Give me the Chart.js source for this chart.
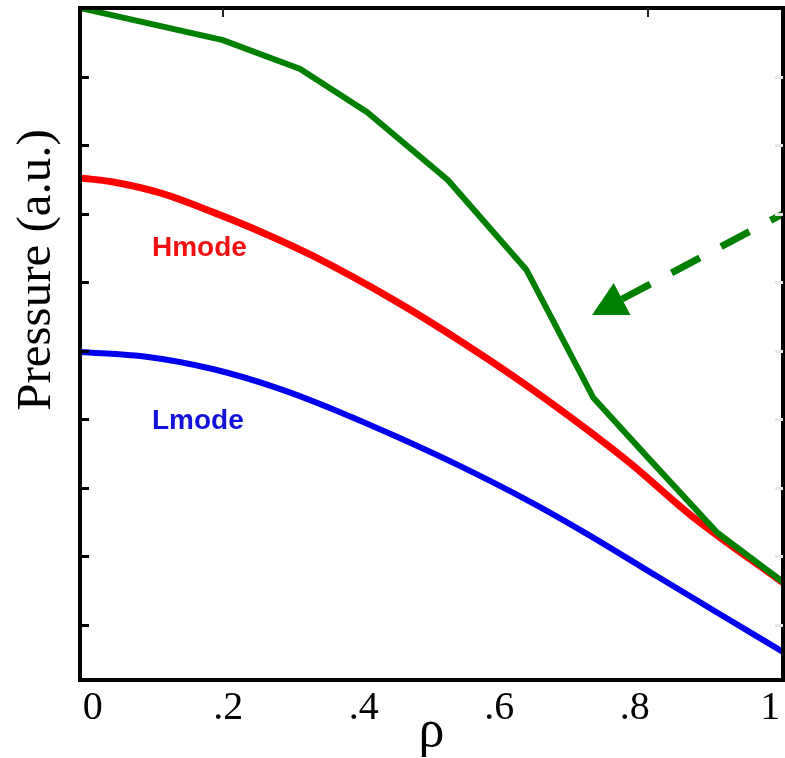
<!DOCTYPE html>
<html>
<head>
<meta charset="utf-8">
<script src="https://cdn.jsdelivr.net/npm/chart.js@4"></script>
<style>
  html, body { margin: 0; padding: 0; background: #fff; }
  #wrap { width: 785px; height: 758px; position: relative; }
</style>
</head>
<body>
<div id="wrap"><canvas id="myChart"></canvas></div>
<script>
const rhoTicks = [0, 0.2, 0.4, 0.6, 0.8, 1];
const rhoLabels = ['0', '.2', '.4', '.6', '.8', '1'];
const pressureTicks = [1, 2, 3, 4, 5, 6, 7, 8, 9];
const topTicks = [0.192, 0.82];

// steep edge profile
const edgeRho = [-0.019, 0.192, 0.306, 0.405, 0.524, 0.640, 0.739, 0.823, 0.922, 1.019];
const edgeP   = [10.0, 9.53, 9.11, 8.48, 7.49, 6.18, 4.31, 3.40, 2.34, 1.62];

const hmodeRho = [-0.019, 0.030, 0.103, 0.177, 0.251, 0.325, 0.449, 0.547, 0.646, 0.789, 0.886, 1.019];
const hmodeP   = [7.52, 7.46, 7.29, 7.02, 6.72, 6.38, 5.71, 5.11, 4.45, 3.39, 2.57, 1.61];

const lmodeRho = [-0.019, 0.079, 0.177, 0.276, 0.365, 0.449, 0.547, 0.646, 0.730, 0.827, 0.926, 1.019];
const lmodeP   = [4.98, 4.91, 4.73, 4.44, 4.10, 3.74, 3.29, 2.79, 2.32, 1.74, 1.15, 0.60];

// dashed arrow: tail -> tip, in (rho, pressure)
const arrowTail = [1.022, 7.01];
const arrowTip = [0.737, 5.52];

const toPoints = (xs, ys) => xs.map((x, i) => ({x: x, y: ys[i]}));

const frame = {
  id: 'frame',
  afterDraw(chart) {
    const c = chart.ctx;
    const a = chart.chartArea;
    const xs = chart.scales.x;
    const ys = chart.scales.y;
    c.save();

    // dashed arrow
    const tx = xs.getPixelForValue(arrowTip[0]), ty = ys.getPixelForValue(arrowTip[1]);
    const fx = xs.getPixelForValue(arrowTail[0]), fy = ys.getPixelForValue(arrowTail[1]);
    const ang = Math.atan2(fy - ty, fx - tx);
    const headLen = 34, headW = 18;
    const bx = tx + Math.cos(ang) * headLen, by = ty + Math.sin(ang) * headLen;
    c.strokeStyle = '#008000';
    c.fillStyle = '#008000';
    c.lineWidth = 7;
    c.setLineDash([32, 24]);
    c.beginPath();
    c.moveTo(bx, by);
    c.lineTo(fx, fy);
    c.stroke();
    c.setLineDash([]);
    c.beginPath();
    c.moveTo(tx, ty);
    c.lineTo(bx + Math.sin(ang) * headW, by - Math.cos(ang) * headW);
    c.lineTo(bx - Math.sin(ang) * headW, by + Math.cos(ang) * headW);
    c.closePath();
    c.fill();

    // box
    c.strokeStyle = '#000';
    c.lineWidth = 4;
    c.strokeRect(a.left, a.top, a.right - a.left, a.bottom - a.top);

    // inward tick marks
    c.lineWidth = 3;
    pressureTicks.forEach(v => {
      const y = Math.round(ys.getPixelForValue(v)) + 0.5;
      c.strokeStyle = '#000';
      c.beginPath(); c.moveTo(a.left, y); c.lineTo(a.left + 9, y); c.stroke();
      c.strokeStyle = '#e6e6e6';
      c.beginPath(); c.moveTo(a.right - 8, y); c.lineTo(a.right, y); c.stroke();
    });
    c.strokeStyle = '#222';
    c.lineWidth = 2;
    topTicks.forEach(v => {
      const x = Math.round(xs.getPixelForValue(v));
      c.beginPath(); c.moveTo(x, a.top); c.lineTo(x, a.top + 9); c.stroke();
    });

    // curve labels
    c.font = 'bold 28px "Liberation Sans", Arial, sans-serif';
    c.textAlign = 'left';
    c.textBaseline = 'alphabetic';
    c.fillStyle = '#f01010';
    c.fillText('Hmode', 152, 256);
    c.fillStyle = '#1212d8';
    c.fillText('Lmode', 152, 429);

    // axis titles
    c.fillStyle = '#000';
    c.font = '49px "Liberation Serif", "Times New Roman", serif';
    c.textAlign = 'center';
    c.save();
    c.translate(50, 270);
    c.rotate(-Math.PI / 2);
    c.fillText('Pressure (a.u.)', 0, 0);
    c.restore();
    c.font = '52px "Liberation Serif", "Times New Roman", serif';
    c.fillText('ρ', (a.left + a.right) / 2, 746);

    c.restore();
  }
};

const ctx = document.getElementById('myChart').getContext('2d');

const myChart = new Chart(ctx, {
  type: 'line',
  data: {
    datasets: [
      {
        data: toPoints(edgeRho, edgeP),
        borderColor: '#008000',
        borderWidth: 6,
        tension: 0,
        pointRadius: 0
      },
      {
        data: toPoints(hmodeRho, hmodeP),
        borderColor: '#ff0000',
        borderWidth: 7,
        cubicInterpolationMode: 'monotone',
        pointRadius: 0
      },
      {
        data: toPoints(lmodeRho, lmodeP),
        borderColor: '#0000ee',
        borderWidth: 6,
        cubicInterpolationMode: 'monotone',
        pointRadius: 0
      }
    ]
  },
  options: {
    responsive: true,
    maintainAspectRatio: false,
    animation: false,
    layout: {
      padding: {left: 80, right: 2, top: 8, bottom: 0}
    },
    plugins: {
      legend: {display: false},
      tooltip: {enabled: false}
    },
    scales: {
      x: {
        type: 'linear',
        min: -0.019,
        max: 1.019,
        afterBuildTicks: (scale) => {
          scale.ticks = rhoTicks.map(v => ({value: v}));
        },
        afterFit: (scale) => {
          scale.height = 78;
        },
        grid: {display: false, drawTicks: false},
        border: {display: false},
        ticks: {
          padding: 4,
          color: '#000',
          maxRotation: 0,
          font: {family: '"Liberation Serif", "Times New Roman", serif', size: 40},
          callback: (v) => rhoLabels[rhoTicks.indexOf(v)]
        }
      },
      y: {
        display: false,
        min: 0.19,
        max: 10
      }
    }
  },
  plugins: [frame]
});
</script>
</body>
</html>
